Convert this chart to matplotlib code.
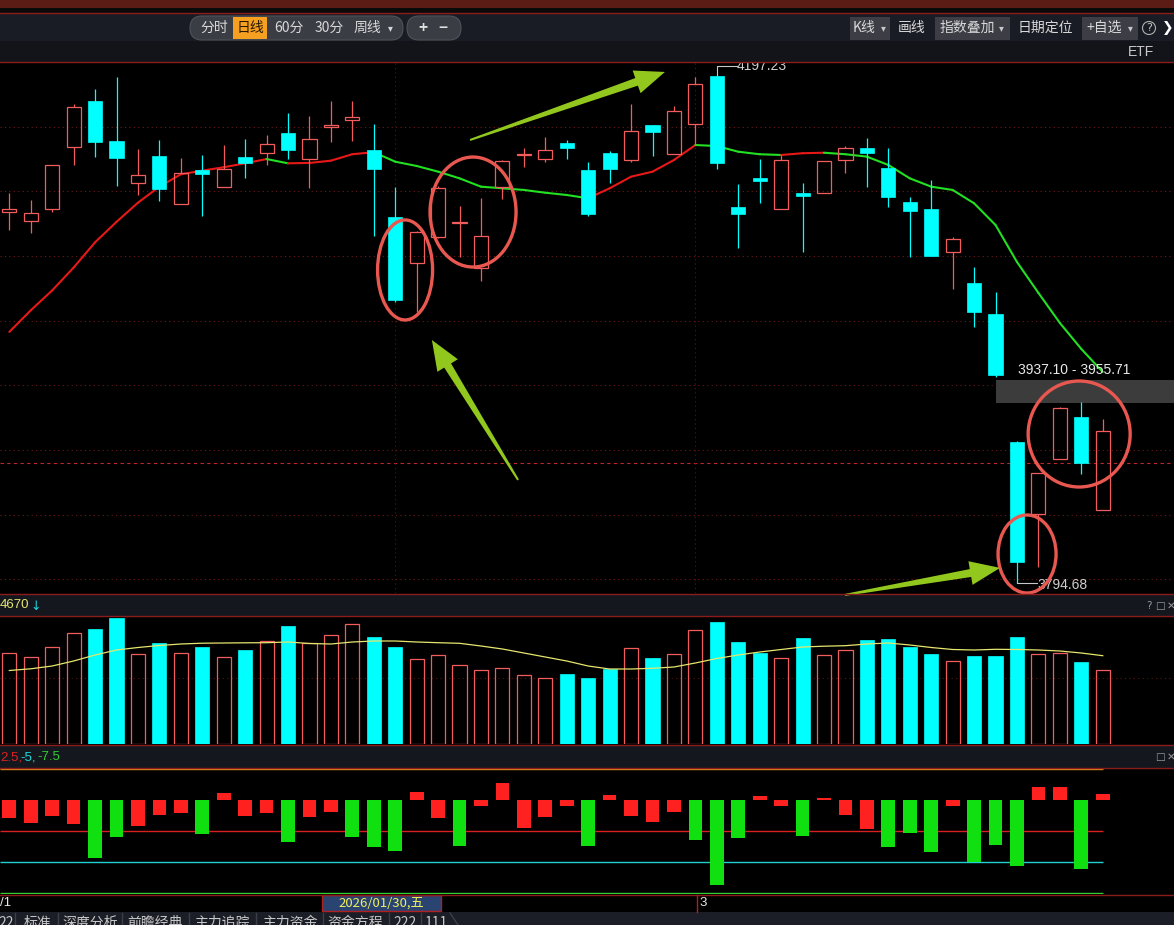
import numpy as np
import matplotlib
matplotlib.use('Agg')
import matplotlib.pyplot as plt
from matplotlib.patches import Rectangle, Ellipse, FancyBboxPatch, Polygon

plt.rcParams['font.family'] = ['Noto Sans CJK SC', 'DejaVu Sans']

# daily K-line (index points)
opens = [4088.6, 4081.7, 4091.3, 4140.4, 4176.4, 4144.9, 4111.4, 4132.8, 4095.2, 4121.9,
         4108.7, 4132.0, 4135.6, 4151.2, 4130.9, 4156.2, 4161.8, 4137.8, 4084.9, 4048.0,
         4069.1, 4079.7, 4044.0, 4108.7, 4133.4, 4130.4, 4143.1, 4121.9, 4135.2, 4129.8,
         4157.6, 4134.4, 4158.1, 4196.4, 4092.6, 4115.6, 4090.8, 4103.5, 4103.5, 4129.8,
         4139.1, 4123.3, 4096.8, 4091.0, 4057.2, 4032.1, 4007.8, 3906.6, 3849.3, 3892.7,
         3926.0, 3852.5]
closes = [4090.8, 4087.6, 4125.6, 4171.6, 4144.3, 4131.7, 4117.7, 4107.1, 4119.3, 4119.0,
          4122.5, 4127.7, 4142.3, 4138.0, 4146.2, 4157.3, 4164.2, 4122.7, 4018.9, 4072.6,
          4107.4, 4080.5, 4069.9, 4128.8, 4134.2, 4137.8, 4139.6, 4086.8, 4122.7, 4153.1,
          4152.3, 4168.9, 4189.8, 4127.7, 4087.1, 4113.4, 4129.8, 4101.6, 4128.8, 4139.1,
          4135.2, 4100.3, 4089.7, 4054.0, 4067.0, 4009.6, 3959.5, 3811.5, 3881.6, 3933.1,
          3889.5, 3915.1]
highs = [4103.5, 4098.1, 4126.1, 4174.0, 4186.1, 4195.6, 4138.3, 4145.7, 4131.2, 4133.8,
         4141.7, 4146.5, 4149.7, 4167.1, 4164.7, 4176.4, 4176.4, 4158.1, 4108.7, 4073.6,
         4109.2, 4093.4, 4099.5, 4129.8, 4139.1, 4147.8, 4145.7, 4128.5, 4137.2, 4174.2,
         4157.6, 4172.6, 4195.9, 4197.23, 4110.8, 4130.6, 4133.8, 4111.4, 4128.8, 4140.9,
         4147.3, 4139.1, 4100.8, 4114.0, 4069.1, 4044.8, 4025.0, 3907.4, 3881.6, 3934.4,
         3938.3, 3924.6]
lows = [4074.4, 4072.2, 4088.9, 4126.1, 4132.5, 4109.2, 4102.3, 4097.6, 4095.2, 4085.7,
        4108.7, 4115.8, 4126.1, 4130.6, 4107.7, 4144.3, 4144.9, 4069.9, 4017.6, 4009.6,
        4067.8, 4053.2, 4034.2, 4098.7, 4124.1, 4128.5, 4130.4, 4085.5, 4111.9, 4128.5,
        4133.0, 4134.4, 4141.7, 4122.5, 4060.4, 4096.0, 4090.8, 4057.2, 4103.5, 4119.3,
        4108.7, 4092.4, 4052.7, 4054.0, 4027.4, 3997.8, 3958.1, 3794.68, 3807.6, 3892.7,
        3881.0, 3852.5]
ma = [3993.6, 4010.7, 4026.5, 4044.6, 4064.6, 4080.8, 4096.0, 4108.7, 4118.5, 4121.4,
      4124.1, 4127.2, 4130.6, 4127.2, 4127.5, 4129.3, 4134.4, 4136.0, 4128.5, 4125.1,
      4120.6, 4115.3, 4108.7, 4107.4, 4106.1, 4103.9, 4102.1, 4099.5, 4107.4, 4116.6,
      4120.6, 4129.8, 4141.7, 4140.9, 4136.4, 4134.4, 4133.8, 4135.2, 4135.6, 4134.4,
      4132.5, 4125.9, 4115.3, 4108.7, 4106.1, 4095.5, 4078.3, 4049.0, 4024.5, 4000.7,
      3980.1, 3961.9]
volumes = [3628, 3492, 3868, 4428, 4588, 5028, 3588, 4028, 3628, 3868,
           3492, 3760, 4132, 4720, 4028, 4360, 4788, 4268, 3868, 3388,
           3548, 3148, 2948, 3028, 2748, 2628, 2800, 2640, 2988, 3828,
           3440, 3588, 4548, 4880, 4080, 3628, 3428, 4240, 3548, 3748,
           4160, 4200, 3880, 3600, 3308, 3520, 3520, 4280, 3588, 3628,
           3280, 2948]
vol_ma = [2940, 3008, 3120, 3320, 3560, 3760, 3860, 3940, 4000, 4032,
          4040, 4048, 4052, 4080, 4020, 4000, 4080, 4120, 4120, 4080,
          4052, 4028, 3920, 3800, 3640, 3480, 3320, 3120, 3000, 3000,
          3028, 3080, 3240, 3420, 3560, 3680, 3780, 3880, 3912, 3932,
          4000, 4040, 3960, 3860, 3780, 3760, 3788, 3780, 3760, 3720,
          3640, 3532]
osc = [-1.45, -1.85, -1.29, -1.94, -4.68, -2.98, -2.10, -1.21, -1.05, -2.74,
       0.56, -1.29, -1.05, -3.39, -1.37, -0.97, -2.98, -3.79, -4.11, 0.65,
       -1.45, -3.71, -0.48, 1.37, -2.26, -1.37, -0.48, -3.71, 0.40, -1.29,
       -1.77, -0.97, -3.23, -6.85, -3.06, 0.32, -0.48, -2.90, 0.16, -1.21,
       -2.34, -3.79, -2.66, -4.19, -0.48, -5.00, -3.63, -5.32, 1.05, 1.05,
       -5.56, 0.48]
osc_levels = [2.5, -2.5, -5, -7.5]
grid_levels = [4156.2, 4105.0, 4053.7, 4002.5, 3951.2, 3900.0, 3848.7, 3797.5]
ref_price = 3889.7
gap_low, gap_high = 3937.10, 3955.71
tabs = ['22', '标准', '深度分析', '前瞻经典', '主力追踪', '主力资金', '资金方程', '222', '111']

W, H = 1174, 925
UP, DN = '#f25c5c', '#00ffff'
fig = plt.figure(figsize=(W / 100, H / 100), dpi=100, facecolor='black')


def rows(top, bottom):
    return [0, 1 - bottom / H, 1, (bottom - top) / H]


n = len(opens)
x = np.arange(n)
step = 21.44
xlim = (-9.3 / step, (W - 9.3) / step)

ax = fig.add_axes(rows(63, 593))
axv = fig.add_axes(rows(617, 744))
axm = fig.add_axes(rows(769, 894))
for a in (ax, axv, axm):
    a.set_facecolor('black')
    a.set_xlim(*xlim)
    a.set_xticks([])
    a.set_yticks([])
    for s in a.spines.values():
        s.set_visible(False)

# ---- main K-line panel
ax.set_ylim(3786.7, 4206.7)
ax.hlines(grid_levels, *xlim, colors='#701818', linestyles=(0, (1, 3)), lw=0.8, zorder=0)
ax.hlines(ref_price, *xlim, colors='#c02828', linestyles=(0, (3, 3)), lw=0.8, zorder=0)
ax.vlines([18, 32], 3786.7, 4206.7, colors='#5a1414', linestyles=(0, (1, 3)), lw=0.8, zorder=0)
ax.add_patch(Rectangle((46, gap_low), xlim[1] - 46, gap_high - gap_low,
                       facecolor='#3c3c3c', edgecolor='none', zorder=1))
ax.text(47.05, 3963.5, '%.2f - %.2f' % (gap_low, gap_high), color='#e8e8e8',
        fontsize=10, family='Liberation Sans', va='center', ha='left', zorder=6)

bw = 0.66
for i in range(n):
    o, h, l, c = opens[i], highs[i], lows[i], closes[i]
    if c >= o:
        top, bot = max(c, o + 0.8), o
        ax.vlines(i, top, h, color=UP, lw=0.9, zorder=3)
        ax.vlines(i, l, bot, color=UP, lw=0.9, zorder=3)
        ax.add_patch(Rectangle((i - bw / 2, bot), bw, top - bot, facecolor='none',
                               edgecolor=UP, lw=0.9, zorder=3))
    else:
        ax.vlines(i, l, h, color=DN, lw=0.9, zorder=3)
        ax.add_patch(Rectangle((i - bw / 2, c), bw, o - c, facecolor=DN,
                               edgecolor=DN, lw=0.5, zorder=3))

for i in range(1, n):
    col = '#e81818' if ma[i] >= ma[i - 1] else '#22e022'
    ax.plot([i - 1, i], [ma[i - 1], ma[i]], color=col, lw=1.5, zorder=2,
            solid_capstyle='round')

kp = (4206.7 - 3786.7) / 530.0  # price per pixel
hi_i, lo_i = int(np.argmax(highs)), int(np.argmin(lows))
hx = highs[hi_i] + 9 * kp
ax.plot([hi_i, hi_i, hi_i + 20 / step], [highs[hi_i], hx, hx], color='#c8c8c8', lw=0.8, zorder=5)
ax.text(hi_i + 20 / step, hx, '%.2f' % highs[hi_i], color='#d0d0d0', fontsize=10,
        family='Liberation Sans', va='center', ha='left', zorder=6)
ax.plot([lo_i, lo_i + 20 / step], [lows[lo_i], lows[lo_i]], color='#c8c8c8', lw=0.8, zorder=5)
ax.text(lo_i + 20 / step, lows[lo_i] - 2 * kp, '%.2f' % lows[lo_i], color='#d0d0d0',
        fontsize=10, family='Liberation Sans', va='center', ha='left', zorder=6,
        clip_on=False)

# ---- volume panel
vmax = 5080
axv.set_ylim(0, vmax)
axv.hlines(2640, *xlim, colors='#5a1414', linestyles=(0, (1, 3)), lw=0.8, zorder=0)
for i in range(n):
    if closes[i] >= opens[i]:
        axv.add_patch(Rectangle((i - bw / 2, 0), bw, volumes[i], facecolor='none',
                                edgecolor=UP, lw=0.9))
    else:
        axv.add_patch(Rectangle((i - bw / 2, 0), bw, volumes[i], facecolor=DN,
                                edgecolor=DN, lw=0.5))
axv.plot(x, vol_ma, color='#e6e66e', lw=0.9, zorder=4)

# ---- oscillator panel
axm.set_ylim(-7.58, 2.5)
lvl_cols = ['#e09020', '#d82020', '#20d0d0', '#30d030']
for lv, lc in zip(osc_levels, lvl_cols):
    axm.hlines(lv, xlim[0], n - 1, colors=lc, lw=1.0, zorder=1)
bar_cols = ['#10e010' if v < -2.5 else '#ff2020' for v in osc]
axm.bar(x, osc, width=0.64, color=bar_cols, zorder=2)

# ---- overlay: frame, toolbar, labels, annotations
ov = fig.add_axes([0, 0, 1, 1], zorder=10)
ov.set_xlim(0, W)
ov.set_ylim(H, 0)
ov.axis('off')
ov.patch.set_alpha(0)

def band(y0, y1, col):
    ov.add_patch(Rectangle((0, y0), W, y1 - y0, facecolor=col, edgecolor='none'))

band(0, 8, '#5a1c14')
band(8, 13, '#0a0a0a')
band(13, 41, '#1a1c25')
band(41, 62, '#121419')
band(594, 616, '#15171f')
band(745, 768, '#15171f')
band(912, 925, '#1c1e27')
for yy in (13, 62, 594, 616, 745, 768, 895):
    ov.plot([0, W], [yy, yy], color='#8a1c1c', lw=1.0)

tb = dict(color='#d8d8d8', fontsize=10, va='center', ha='center')
ov.add_patch(FancyBboxPatch((190, 16), 213, 24, boxstyle='round,pad=0,rounding_size=12',
                            facecolor='#3b3d45', edgecolor='#505259', lw=0.8))
ov.add_patch(Rectangle((233, 17), 34, 22, facecolor='#f5a020', edgecolor='none'))
for lab, xx in zip(['分时', '日线', '60分', '30分', '周线', '▾'], [214, 250, 289, 329, 367, 390]):
    kw = dict(tb)
    if lab == '日线':
        kw['color'] = '#2a1800'
    if lab == '▾':
        kw['fontsize'] = 7
        kw['family'] = 'DejaVu Sans'
    ov.text(xx, 28, lab, **kw)
ov.add_patch(FancyBboxPatch((407, 16), 54, 24, boxstyle='round,pad=0,rounding_size=12',
                            facecolor='#3b3d45', edgecolor='#505259', lw=0.8))
ov.text(423, 28, '+', color='#e0e0e0', fontsize=11, ha='center', va='center', weight='bold')
ov.text(443, 28, '−', color='#e0e0e0', fontsize=11, ha='center', va='center', weight='bold')

for bx, bwid in [(850, 40), (935, 75), (1082, 56)]:
    ov.add_patch(Rectangle((bx, 17), bwid, 23, facecolor='#3c3d45', edgecolor='none'))
for lab, xx in [('K线', 864), ('画线', 912), ('指数叠加', 967), ('日期定位', 1045), ('+自选', 1104)]:
    ov.text(xx, 28, lab, **tb)
for xx in (883, 1001, 1130):
    ov.text(xx, 28, '▾', color='#c8c8c8', fontsize=7, ha='center', va='center', family='DejaVu Sans')
ov.add_patch(Ellipse((1149, 28), 13, 13, facecolor='none', edgecolor='#b0b0b0', lw=0.8))
ov.text(1149, 28, '?', color='#c0c0c0', fontsize=8, ha='center', va='center', family='DejaVu Sans')
ov.text(1168, 28, '❯', color='#ffffff', fontsize=10, ha='center', va='center', family='DejaVu Sans')
ov.text(1141, 52, 'ETF', color='#c8c8c8', fontsize=10, ha='center', va='center', family='Liberation Sans')

num = dict(fontsize=9.5, va='center', ha='left', family='Liberation Sans')
ov.text(0, 605, '4670', color='#e6e66e', **num)
ov.text(30, 606, '↓', color='#20d8e0', fontsize=9, va='center', ha='left', family='DejaVu Sans')
ov.text(0, 757, '2.5,', color='#e02020', **num)
ov.text(20, 757, '-5,', color='#20d8d8', **num)
ov.text(37, 757, '-7.5', color='#30d030', **num)
for lab, xx, yy in [('?', 1149, 606), ('□', 1160, 606), ('✕', 1171, 606), ('□', 1160, 757), ('✕', 1171, 757)]:
    ov.text(xx, yy, lab, color='#9a9a9a', fontsize=7.5, ha='center', va='center', family='DejaVu Sans')

ov.text(0, 903, '/1', color='#e8e8e8', **num)
ov.add_patch(Rectangle((322, 895), 119, 16, facecolor='#2a4472', edgecolor='#b02020', lw=1))
ov.text(381, 903, '2026/01/30,五', color='#f0f060', fontsize=9.5, ha='center', va='center')
ov.plot([697, 697], [895, 912], color='#b02020', lw=1)
ov.text(699, 903, '3', color='#e8e8e8', **num)

# bottom tab strip (its labels run off the lower edge, as in the screenshot)
tab_x = [6, 38, 90, 155, 222, 290, 355, 405, 436]
for lab, xx in zip(tabs, tab_x):
    ov.text(xx, 916, lab, color='#c8c8c8', fontsize=10, ha='center', va='top')
for xx in (15, 58, 122, 189, 256, 323, 389, 421):
    ov.plot([xx, xx], [913, 925], color='#3c3e48', lw=1)
ov.plot([450, 458], [913, 925], color='#3c3e48', lw=1)


def to_px(idx, price):
    dx, dy = ax.transData.transform((idx, price))
    return dx, H - dy


# highlighted regions (idx, price, width px, height px)
rings = [(18.46, 4042.7, 55, 100), (21.63, 4088.6, 86, 110),
         (49.9, 3912.7, 102, 106), (47.47, 3817.6, 58, 78)]
for ci, cp, ew, eh in rings:
    ov.add_patch(Ellipse(to_px(ci, cp), ew, eh, facecolor='none', edgecolor='#e85850', lw=2.4))


def arrow(p0, p1, w_tail=2.0, w_neck=8.0, head_w=24.0, head_len=30.0):
    p0, p1 = np.array(p0), np.array(p1)
    d = p1 - p0
    u = d / np.hypot(*d)
    nv = np.array([-u[1], u[0]])
    neck = p1 - u * head_len
    pts = [p0 + nv * w_tail / 2, neck + nv * w_neck / 2, neck + nv * head_w / 2, p1,
           neck - nv * head_w / 2, neck - nv * w_neck / 2, p0 - nv * w_tail / 2]
    ov.add_patch(Polygon(pts, closed=True, facecolor='#92c81e', edgecolor='none'))


arrows = [((21.49, 4145.7), (30.58, 4199.6)),
          ((23.73, 3876.3), (19.71, 3987.2)),
          ((38.98, 3785.2), (46.21, 3806.6))]
for a0, a1 in arrows:
    arrow(to_px(*a0), to_px(*a1))

fig.savefig('out.png', dpi=100, facecolor='black')
